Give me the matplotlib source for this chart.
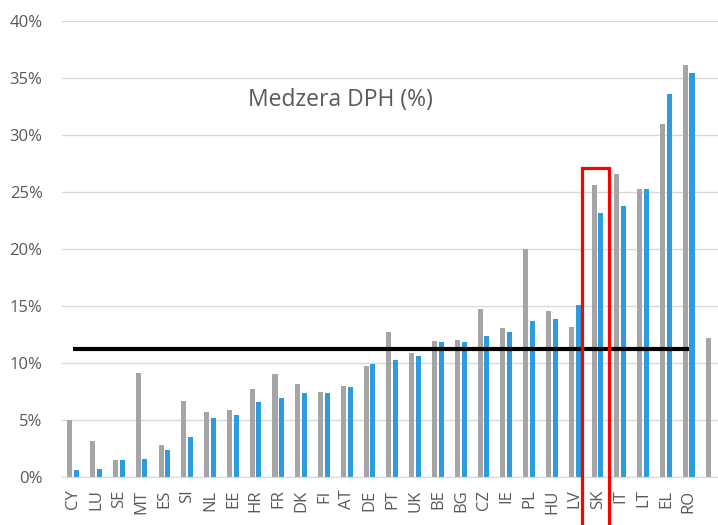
import numpy as np
import matplotlib
matplotlib.use('Agg')
import matplotlib.pyplot as plt
from matplotlib.patches import Rectangle

# VAT gap by member state (%), two years
countries = ['CY', 'LU', 'SE', 'MT', 'ES', 'SI', 'NL', 'EE', 'HR', 'FR', 'DK', 'FI', 'AT', 'DE',
             'PT', 'UK', 'BE', 'BG', 'CZ', 'IE', 'PL', 'HU', 'LV', 'SK', 'IT', 'LT', 'EL', 'RO', '']
gap_prev = [5.0, 3.2, 1.5, 9.1, 2.8, 6.7, 5.7, 5.9, 7.7, 9.0, 8.2, 7.45, 8.0, 9.75,
            12.7, 10.9, 11.9, 12.0, 14.75, 13.05, 20.0, 14.6, 13.2, 25.65, 26.6, 25.3, 31.0, 36.1, 12.2]
gap_last = [0.6, 0.7, 1.45, 1.55, 2.4, 3.5, 5.2, 5.4, 6.6, 6.9, 7.35, 7.35, 7.9, 9.9,
            10.25, 10.6, 11.8, 11.85, 12.4, 12.7, 13.7, 13.9, 15.1, 23.2, 23.8, 25.3, 33.6, 35.45]
eu_average = 11.2
highlight = 'SK'

plt.rcParams['font.family'] = ['Open Sans', 'DejaVu Sans']
txt = '#595959'
fig = plt.figure(figsize=(7.18, 5.25), dpi=100)
ax = fig.add_axes([62 / 718, 48 / 525, 661 / 718, 456 / 525])

x = np.arange(len(countries))
w = 0.22
ax.bar(x - 0.155, gap_prev, w, color='#A5A5A5', zorder=2)
ax.bar(x[:len(gap_last)] + 0.14, gap_last, w, color='#2E9BDE', zorder=2)

ax.hlines(eu_average, 0, len(gap_last) - 1, color='black', lw=3, zorder=3)

i = countries.index(highlight)
ax.add_patch(Rectangle((i - 0.68, -8), 1.17, 27.1 + 8, fill=False, ec='#FF0000',
                       lw=2.3, clip_on=False, zorder=4))

ax.text(11.7, 33.1, 'Medzera DPH (%)', fontsize=16.5, color=txt, ha='center', va='center')

ax.set_xlim(-0.5, len(countries) - 0.5)
ax.set_ylim(0, 40)
ax.set_yticks(np.arange(0, 41, 5))
ax.set_yticklabels([f'{v}%' for v in range(0, 41, 5)])
ax.set_xticks(x)
ax.set_xticklabels(countries, rotation=90)
ax.tick_params(axis='y', length=0, pad=14, labelsize=12, labelcolor=txt)
ax.tick_params(axis='x', length=0, pad=9, labelsize=12, labelcolor=txt)
ax.grid(axis='y', color='#D9D9D9', lw=1, zorder=0)
for s in ['top', 'right', 'left']:
    ax.spines[s].set_visible(False)
ax.spines['bottom'].set_color('#D9D9D9')

fig.savefig('out.png', dpi=100)
